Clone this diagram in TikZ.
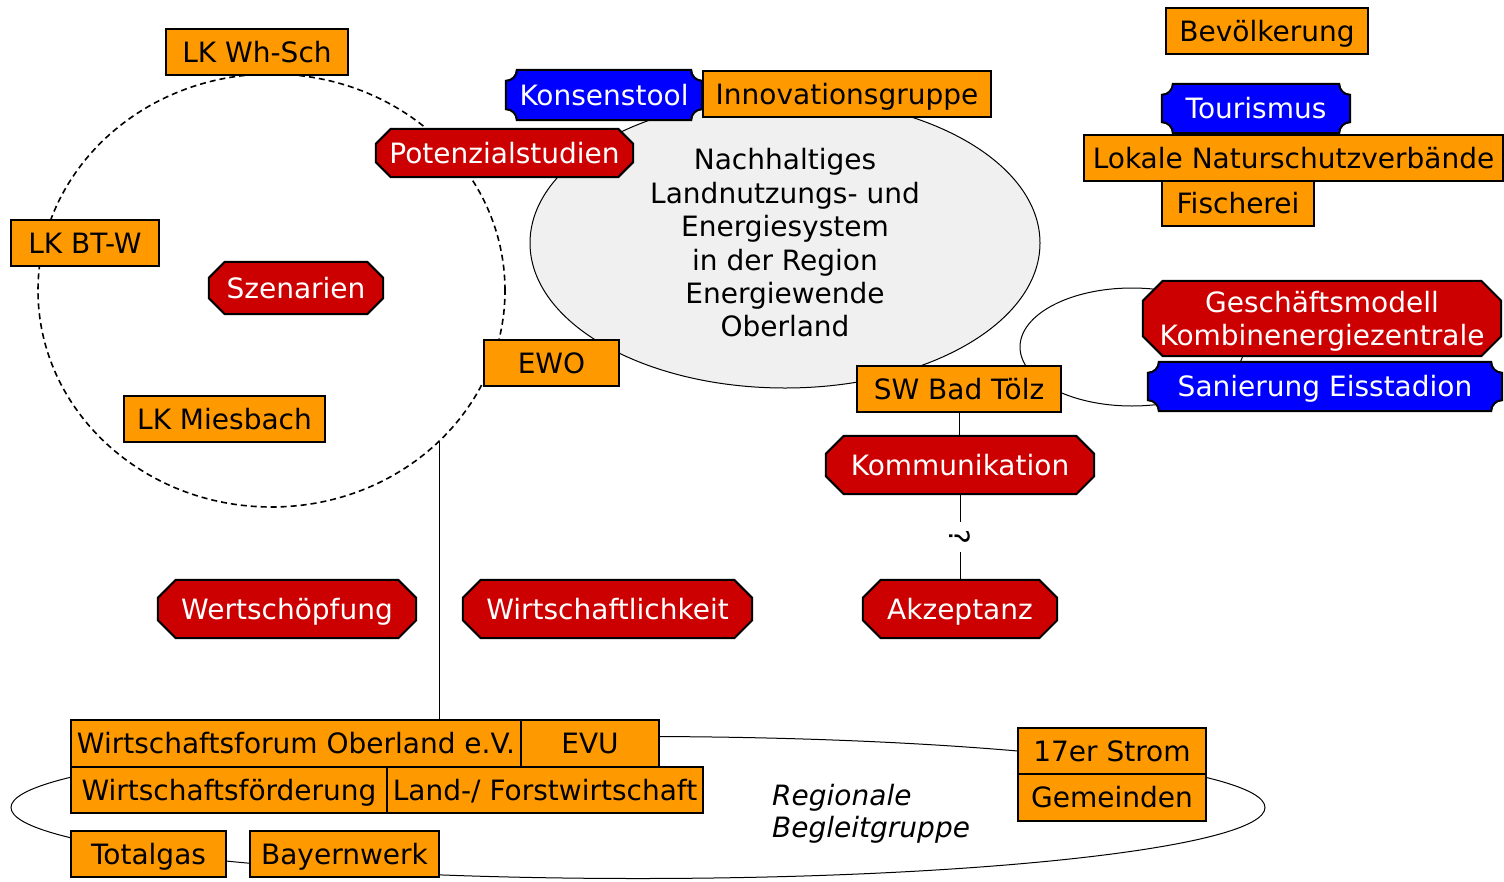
\documentclass[tikz,border=0pt]{standalone}
\usepackage{fontspec}
\setmainfont{DejaVu Sans}
\usetikzlibrary{calc,shapes.geometric}
\pgfdeclarelayer{back}
\pgfdeclarelayer{shp}
\pgfsetlayers{back,shp,main}
\definecolor{orng}{HTML}{FF9900}
\definecolor{rd}{HTML}{CC0000}
\definecolor{bl}{HTML}{0000FF}
\definecolor{gry}{HTML}{F0F0F0}
\newcommand\octashape[2]{%
  \begin{pgfonlayer}{shp}
  \filldraw[fill=rd, draw=black, line width=2pt, line join=miter]
   ($(#1.north west)+(#2pt,0pt)$) -- ($(#1.north east)+(-#2pt,0pt)$) --
   ($(#1.north east)+(0pt,-#2pt)$) -- ($(#1.south east)+(0pt,#2pt)$) --
   ($(#1.south east)+(-#2pt,0pt)$) -- ($(#1.south west)+(#2pt,0pt)$) --
   ($(#1.south west)+(0pt,#2pt)$) -- ($(#1.north west)+(0pt,-#2pt)$) -- cycle;
  \end{pgfonlayer}}
\newcommand\concshape[1]{%
  \begin{pgfonlayer}{shp}
  \filldraw[fill=bl, draw=black, line width=2pt]
   ($(#1.north west)+(0pt,-11pt)$) arc[start angle=270,end angle=360,radius=11pt]
   -- ($(#1.north east)+(-11pt,0pt)$) arc[start angle=180,end angle=270,radius=11pt]
   -- ($(#1.south east)+(0pt,11pt)$) arc[start angle=90,end angle=180,radius=11pt]
   -- ($(#1.south west)+(11pt,0pt)$) arc[start angle=0,end angle=90,radius=11pt]
   -- cycle;
  \end{pgfonlayer}}
\begin{document}
\begin{tikzpicture}[x=1pt,y=-1pt,
  every node/.style={font=\fontsize{28}{33.4}\selectfont, inner sep=0pt},
  oneline/.style={text height=24pt, text depth=4pt},
  obox/.style={oneline, draw=black, line width=2pt, fill=orng, text=black},
  rbox/.style={oneline, text=white},
  bbox/.style={oneline, text=white},
  thinline/.style={draw=black, line width=1pt},
]
\useasboundingbox (0,0) rectangle (1504,881);

% ---------- background ellipses ----------
\begin{pgfonlayer}{back}
\node[ellipse, draw=black, fill=gry, line width=1pt, minimum width=510, minimum height=290, align=center] (nle) at (785,243)
  {Nachhaltiges\\Landnutzungs- und\\Energiesystem\\in der Region\\Energiewende\\Oberland};
\node[ellipse, draw=black, dashed, dash pattern=on 6pt off 4pt, line width=1.6pt, minimum width=467, minimum height=433] (circ) at (271.5,290.5) {};
\node[ellipse, thinline, minimum width=224, minimum height=118] (rell) at (1132,347) {};
\node[ellipse, thinline, minimum width=1254, minimum height=142] (bell) at (638,807.5) {};
\end{pgfonlayer}

% ---------- orange boxes ----------
\node[obox, minimum width=182, minimum height=46] (lkwh) at (257,52) {LK Wh-Sch};
\node[obox, minimum width=148, minimum height=46] (lkbt) at (85,243) {LK BT-W};
\node[obox, minimum width=201, minimum height=46] (lkmb) at (224.5,419) {LK Miesbach};
\node[obox, minimum width=135, minimum height=46] (ewo) at (551.5,363) {EWO};
\node[obox, minimum width=288, minimum height=46] (inno) at (847,94) {Innovationsgruppe};
\node[obox, minimum width=202, minimum height=46] (bev) at (1267,31) {Bevölkerung};
\node[obox, minimum width=419, minimum height=46] (lnv) at (1293.5,158) {Lokale Naturschutzverbände};
\node[obox, minimum width=152, minimum height=45] (fisch) at (1238,203.5) {Fischerei};
\node[obox, minimum width=204, minimum height=46] (sw) at (959,389) {SW Bad Tölz};
\node[obox, minimum width=450, minimum height=47] (wf) at (296,743.5) {Wirtschaftsforum Oberland e.V.};
\node[obox, minimum width=138, minimum height=47] (evu) at (590,743.5) {EVU};
\node[obox, minimum width=316, minimum height=46] (wfd) at (229,790) {Wirtschaftsförderung};
\node[obox, minimum width=316, minimum height=46] (lfw) at (545,790) {Land-/ Forstwirtschaft};
\node[obox, minimum width=155, minimum height=46] (tg) at (148.5,854) {Totalgas};
\node[obox, minimum width=189, minimum height=46] (bw) at (344.5,854) {Bayernwerk};
\node[obox, minimum width=188, minimum height=46] (str) at (1112,751) {17er Strom};
\node[obox, minimum width=188, minimum height=47] (gem) at (1112,797.5) {Gemeinden};

% ---------- red octagons ----------
\node[rbox, minimum width=257, minimum height=48] (pot) at (504.5,153) {Potenzialstudien};
\octashape{pot}{15}
\node[rbox, minimum width=174, minimum height=52] (szen) at (296,288) {Szenarien};
\octashape{szen}{16}
\node[rbox, minimum width=268, minimum height=58] (komm) at (960,465) {Kommunikation};
\octashape{komm}{18}
\node[rbox, minimum width=194, minimum height=58] (akz) at (960,609) {Akzeptanz};
\octashape{akz}{18}
\node[rbox, minimum width=258, minimum height=58] (ws) at (287,609) {Wertschöpfung};
\octashape{ws}{18}
\node[rbox, minimum width=289, minimum height=58] (wl) at (607.5,609) {Wirtschaftlichkeit};
\octashape{wl}{18}
\node[minimum width=358, minimum height=75] (gm) at (1322,318.5) {};
\octashape{gm}{20}
\node[text=white, align=center, font=\fontsize{28}{33}\selectfont] (gmt) at (1322,321.5) {Geschäftsmodell\\Kombinenergiezentrale};

% ---------- blue concave boxes ----------
\node[bbox, minimum width=196, minimum height=50] (kons) at (604,95) {Konsenstool};
\concshape{kons}
\node[bbox, minimum width=188, minimum height=49] (tour) at (1256,108.5) {Tourismus};
\concshape{tour}
\node[bbox, minimum width=354, minimum height=49] (san) at (1325,386.5) {Sanierung Eisstadion};
\concshape{san}

% ---------- label ----------
\node[anchor=west, align=left, font=\fontsize{28}{32}\selectfont\itshape] (rb) at (772,814) {Regionale\\Begleitgruppe};

% ---------- connectors ----------
\begin{pgfonlayer}{back}
\draw[thinline] (circ.-42) -- (circ.-42 |- wf.north);
\draw[thinline] (sw.south) -- (sw.south |- komm.north);
\draw[thinline] (komm.south) -- node[fill=white, rotate=-90, inner sep=8pt] (q) {?} (akz.north);
\end{pgfonlayer}
\end{tikzpicture}
\end{document}
